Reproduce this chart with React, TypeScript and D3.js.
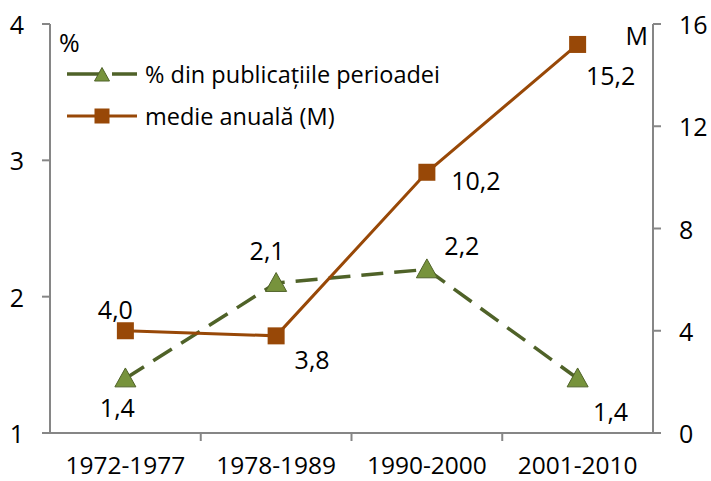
import React from "react";
import * as d3 from "d3";

const categories = ["1972-1977", "1978-1989", "1990-2000", "2001-2010"];
const percentValues = [1.4, 2.1, 2.2, 1.4];
const annualValues = [4.0, 3.8, 10.2, 15.2];
const percentLabels = ["1,4", "2,1", "2,2", "1,4"];
const annualLabels = ["4,0", "3,8", "10,2", "15,2"];
const leftTicks = [1, 2, 3, 4];
const rightTicks = [0, 4, 8, 12, 16];
const seriesNames = ["% din publicațiile perioadei", "medie anuală (M)"];

// label offsets (dx, dy) relative to point
const percentOffsets: [number, number][] = [[-8, 29], [-9, -33], [35, -24], [33, 33]];
const annualOffsets: [number, number][] = [[-10, -22], [36, 23], [49, 8], [33, 31]];

const W = 711, H = 481;
const left = 50, right = 653, top = 24, bottom = 433;
const FONT = "'Open Sans', sans-serif";
const GREEN = "#4f6228";
const GREEN_FILL = "#77933c";
const ORANGE = "#984807";
const AXIS = "#868686";

export default function App() {
  const x = d3.scaleBand<string>().domain(categories).range([left, right]);
  const yL = d3.scaleLinear().domain([1, 4]).range([bottom, top]);
  const yR = d3.scaleLinear().domain([0, 16]).range([bottom, top]);
  const cx = (c: string) => (x(c) as number) + x.bandwidth() / 2;

  const line = d3.line<[number, number]>().x(d => d[0]).y(d => d[1]);
  const pPts: [number, number][] = categories.map((c, i) => [cx(c), yL(percentValues[i])]);
  const aPts: [number, number][] = categories.map((c, i) => [cx(c), yR(annualValues[i])]);

  const tri = (px: number, py: number, s = 10.5) =>
    `M${px},${py - s}L${px + s},${py + s * 0.8}L${px - s},${py + s * 0.8}Z`;

  const fs = 25;
  const fsLegend = 23.5;

  return (
    <svg width={W} height={H} style={{ position: "absolute", left: 0, top: 0 }} fontFamily={FONT}>
      <rect width={W} height={H} fill="#fff" />
      {/* axes */}
      <line x1={left} x2={left} y1={top} y2={bottom} stroke={AXIS} strokeWidth={2} />
      <line x1={right} x2={right} y1={top} y2={bottom} stroke={AXIS} strokeWidth={2} />
      <line x1={left - 8} x2={right + 8} y1={bottom} y2={bottom} stroke={AXIS} strokeWidth={2} />
      {leftTicks.map(t => (
        <g key={"l" + t}>
          <line x1={left - 8} x2={left} y1={yL(t)} y2={yL(t)} stroke={AXIS} strokeWidth={2} />
          <text x={24} y={yL(t)} textAnchor="end" dominantBaseline="central" fontSize={fs} fill="#000">{t}</text>
        </g>
      ))}
      {rightTicks.map(t => (
        <g key={"r" + t}>
          <line x1={right} x2={right + 8} y1={yR(t)} y2={yR(t)} stroke={AXIS} strokeWidth={2} />
          <text x={679} y={yR(t)} textAnchor="start" dominantBaseline="central" fontSize={fs} fill="#000">{t}</text>
        </g>
      ))}
      {categories.map((c, i) => (
        <g key={c}>
          {i > 0 && <line x1={x(c)} x2={x(c)} y1={bottom} y2={bottom + 8} stroke={AXIS} strokeWidth={2} />}
          <text x={cx(c)} y={474} textAnchor="middle" fontSize={24.5} fill="#000">{c}</text>
        </g>
      ))}
      <text x={59} y={52} fontSize={25} fill="#000">%</text>
      <text x={648} y={45} textAnchor="end" fontSize={25} fill="#000">M</text>

      {/* series */}
      <path d={line(pPts) || ""} fill="none" stroke={GREEN} strokeWidth={3.5} strokeDasharray="22,11" />
      {pPts.map((p, i) => (
        <path key={"t" + i} d={tri(p[0], p[1])} fill={GREEN_FILL} stroke={GREEN} strokeWidth={1} />
      ))}
      <path d={line(aPts) || ""} fill="none" stroke={ORANGE} strokeWidth={3} />
      {aPts.map((p, i) => (
        <rect key={"s" + i} x={p[0] - 8.5} y={p[1] - 8.5} width={17} height={17} fill={ORANGE} />
      ))}

      {/* data labels */}
      {pPts.map((p, i) => (
        <text key={"pl" + i} x={p[0] + percentOffsets[i][0]} y={p[1] + percentOffsets[i][1]} textAnchor="middle" dominantBaseline="central" fontSize={fs} fill="#000">{percentLabels[i]}</text>
      ))}
      {aPts.map((p, i) => (
        <text key={"al" + i} x={p[0] + annualOffsets[i][0]} y={p[1] + annualOffsets[i][1]} textAnchor="middle" dominantBaseline="central" fontSize={fs} fill="#000">{annualLabels[i]}</text>
      ))}

      {/* legend */}
      <g>
        <line x1={67} x2={137} y1={74} y2={74} stroke={GREEN} strokeWidth={3.5} strokeDasharray="33,12,25" />
        <path d={tri(102, 75, 7.5)} fill={GREEN_FILL} stroke={GREEN} strokeWidth={1} />
        <text x={145} y={74} dominantBaseline="central" fontSize={fsLegend} fill="#000">{seriesNames[0]}</text>
        <line x1={67} x2={137} y1={116} y2={116} stroke={ORANGE} strokeWidth={3} />
        <rect x={94.5} y={108.5} width={15} height={15} fill={ORANGE} />
        <text x={145} y={116} dominantBaseline="central" fontSize={fsLegend} fill="#000">{seriesNames[1]}</text>
      </g>
    </svg>
  );
}
